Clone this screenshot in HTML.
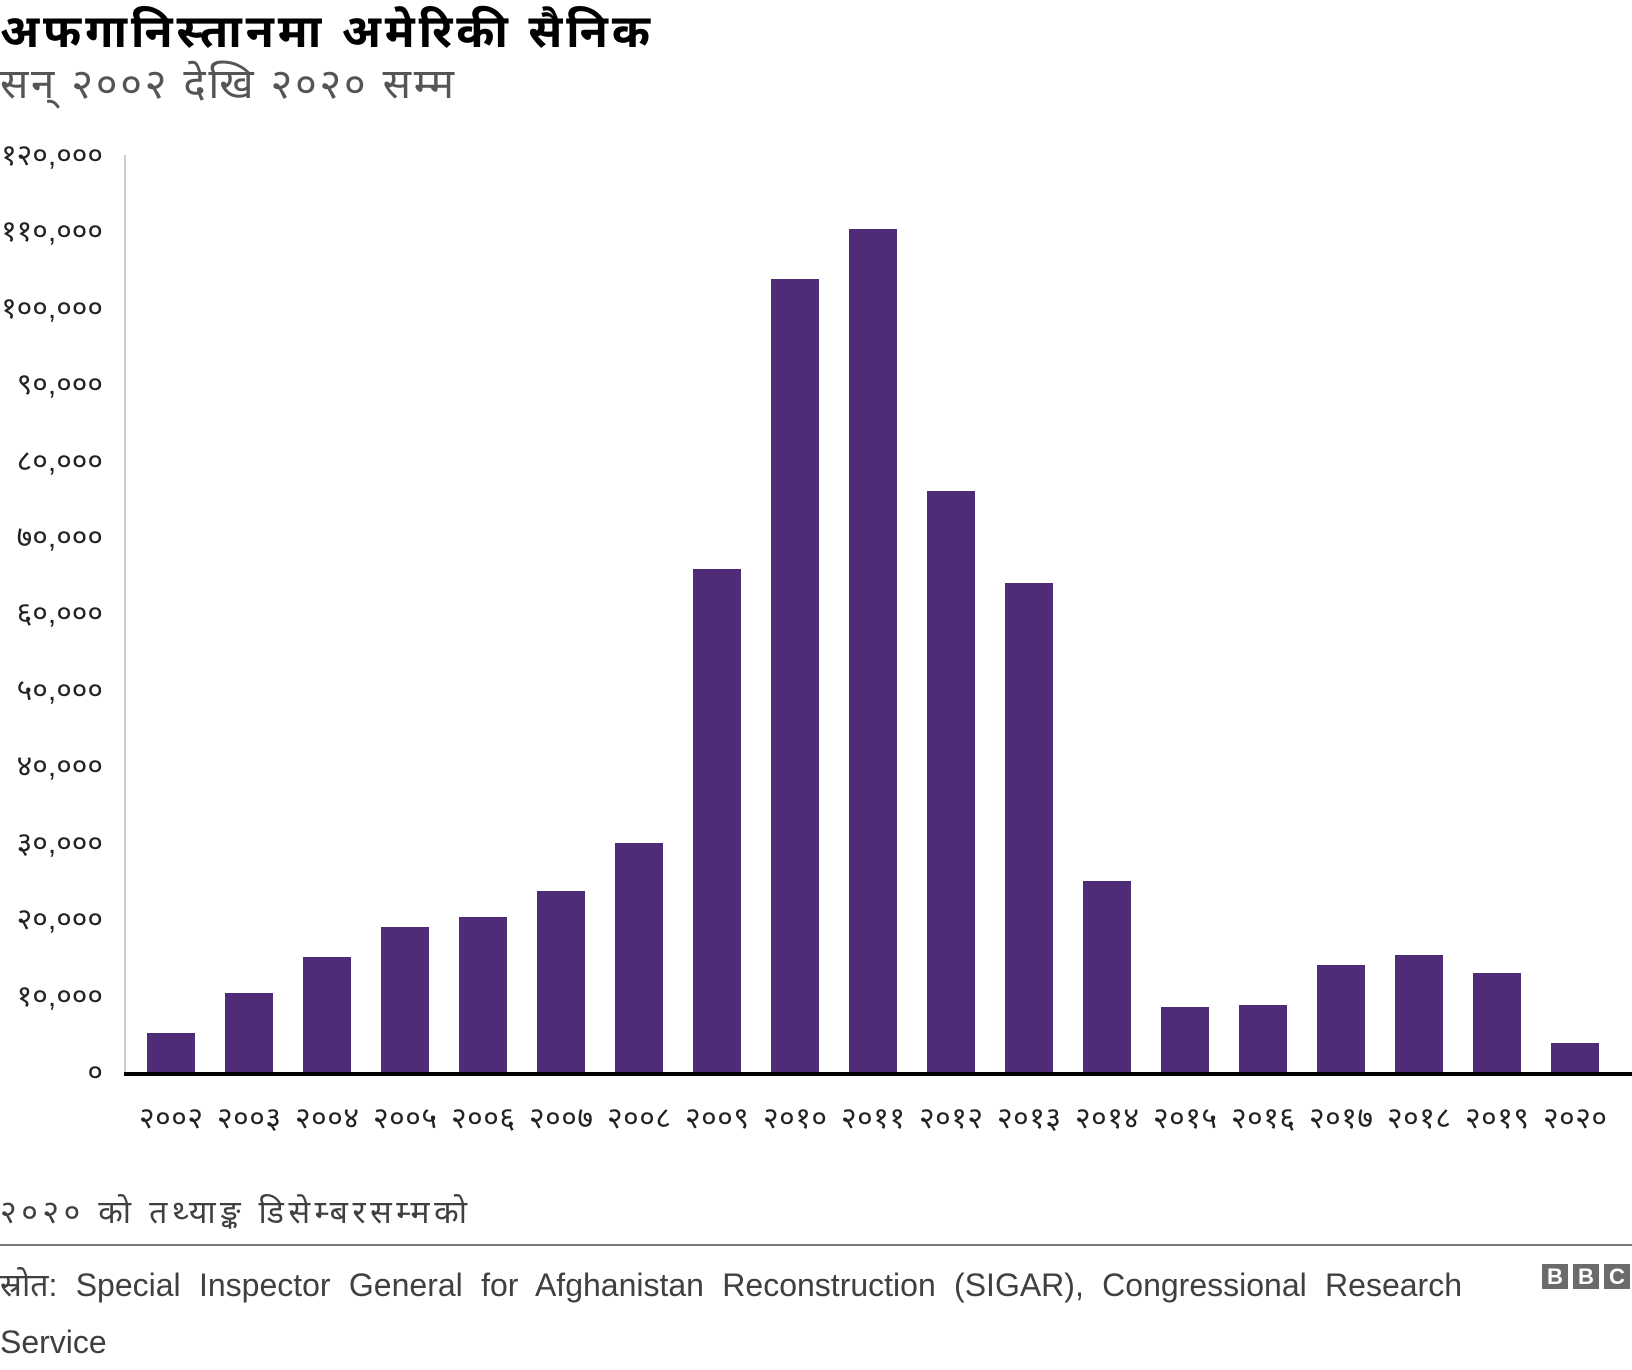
<!DOCTYPE html>
<html>
<head>
<meta charset="utf-8">
<style>
  html,body{margin:0;padding:0;background:#fff;}
  body{width:1632px;height:1370px;position:relative;overflow:hidden;
       font-family:"Liberation Sans","Noto Sans Devanagari","Lohit Devanagari","FreeSans","Noto Sans CJK SC",sans-serif;}
  svg{position:absolute;left:0;top:0;}
  .src{position:absolute;left:0;font-size:32px;color:#404040;white-space:nowrap;}
  .l1{top:1265px;width:1462px;text-align:justify;text-align-last:justify;white-space:normal;line-height:40px;height:40px;overflow:hidden;}
  .l2{top:1322px;line-height:40px;}
  .bbc{position:absolute;top:1264px;width:26px;height:25px;background:#6b6b6b;color:#fff;font-weight:bold;font-size:22px;line-height:25px;text-align:center;font-family:"Liberation Sans",sans-serif;}
</style>
</head>
<body>
<svg width="1632" height="1370" viewBox="0 0 1632 1370" xmlns="http://www.w3.org/2000/svg" font-family="Liberation Sans, Noto Sans Devanagari, Lohit Devanagari, FreeSans, sans-serif">
  <!-- Title -->
  <text x="0" y="47" font-size="46" font-weight="bold" fill="#000" textLength="650" lengthAdjust="spacing">अफगानिस्तानमा अमेरिकी सैनिक</text>
  <text x="0" y="98" font-size="42" fill="#555" textLength="454" lengthAdjust="spacing">सन् २००२ देखि २०२० सम्म</text>

  <!-- y axis line -->
  <rect x="124" y="155" width="2" height="917" fill="#cccccc"/>

  <!-- y labels -->
  <g font-size="30" fill="#222" text-anchor="end">
    <text x="103" y="1082">०</text>
    <text x="103" y="1006">१०,०००</text>
    <text x="103" y="929">२०,०००</text>
    <text x="103" y="853">३०,०००</text>
    <text x="103" y="776">४०,०००</text>
    <text x="103" y="700">५०,०००</text>
    <text x="103" y="623">६०,०००</text>
    <text x="103" y="547">७०,०००</text>
    <text x="103" y="471">८०,०००</text>
    <text x="103" y="394">९०,०००</text>
    <text x="103" y="318">१००,०००</text>
    <text x="103" y="241">११०,०००</text>
    <text x="103" y="165">१२०,०००</text>
  </g>

  <!-- bars -->
  <g fill="#4e2c77">
    <rect x="147" y="1033" width="48" height="39"/>
    <rect x="225" y="993" width="48" height="79"/>
    <rect x="303" y="957" width="48" height="115"/>
    <rect x="381" y="927" width="48" height="145"/>
    <rect x="459" y="917" width="48" height="155"/>
    <rect x="537" y="891" width="48" height="181"/>
    <rect x="615" y="843" width="48" height="229"/>
    <rect x="693" y="569" width="48" height="503"/>
    <rect x="771" y="279" width="48" height="793"/>
    <rect x="849" y="229" width="48" height="843"/>
    <rect x="927" y="491" width="48" height="581"/>
    <rect x="1005" y="583" width="48" height="489"/>
    <rect x="1083" y="881" width="48" height="191"/>
    <rect x="1161" y="1007" width="48" height="65"/>
    <rect x="1239" y="1005" width="48" height="67"/>
    <rect x="1317" y="965" width="48" height="107"/>
    <rect x="1395" y="955" width="48" height="117"/>
    <rect x="1473" y="973" width="48" height="99"/>
    <rect x="1551" y="1043" width="48" height="29"/>
  </g>

  <!-- baseline -->
  <rect x="124" y="1072" width="1508" height="4" fill="#000"/>

  <!-- x labels -->
  <g font-size="30" fill="#222" text-anchor="middle">
    <text x="171" y="1128" textLength="64" lengthAdjust="spacing">२००२</text>
    <text x="249" y="1128" textLength="64" lengthAdjust="spacing">२००३</text>
    <text x="327" y="1128" textLength="64" lengthAdjust="spacing">२००४</text>
    <text x="405" y="1128" textLength="64" lengthAdjust="spacing">२००५</text>
    <text x="483" y="1128" textLength="64" lengthAdjust="spacing">२००६</text>
    <text x="561" y="1128" textLength="64" lengthAdjust="spacing">२००७</text>
    <text x="639" y="1128" textLength="64" lengthAdjust="spacing">२००८</text>
    <text x="717" y="1128" textLength="64" lengthAdjust="spacing">२००९</text>
    <text x="795" y="1128" textLength="64" lengthAdjust="spacing">२०१०</text>
    <text x="873" y="1128" textLength="64" lengthAdjust="spacing">२०११</text>
    <text x="951" y="1128" textLength="64" lengthAdjust="spacing">२०१२</text>
    <text x="1029" y="1128" textLength="64" lengthAdjust="spacing">२०१३</text>
    <text x="1107" y="1128" textLength="64" lengthAdjust="spacing">२०१४</text>
    <text x="1185" y="1128" textLength="64" lengthAdjust="spacing">२०१५</text>
    <text x="1263" y="1128" textLength="64" lengthAdjust="spacing">२०१६</text>
    <text x="1341" y="1128" textLength="64" lengthAdjust="spacing">२०१७</text>
    <text x="1419" y="1128" textLength="64" lengthAdjust="spacing">२०१८</text>
    <text x="1497" y="1128" textLength="64" lengthAdjust="spacing">२०१९</text>
    <text x="1575" y="1128" textLength="64" lengthAdjust="spacing">२०२०</text>
  </g>

  <!-- footnote -->
  <text x="0" y="1223" font-size="32" fill="#404040" textLength="467" lengthAdjust="spacing">२०२० को तथ्याङ्क डिसेम्बरसम्मको</text>

  <!-- separator -->
  <rect x="0" y="1244" width="1632" height="2" fill="#7a7a7a"/>
</svg>

<div class="src l1">स्रोत: Special Inspector General for Afghanistan Reconstruction (SIGAR), Congressional Research</div>
<div class="src l2">Service</div>

<div class="bbc" style="left:1542px;">B</div>
<div class="bbc" style="left:1573px;">B</div>
<div class="bbc" style="left:1604px;">C</div>
</body>
</html>
